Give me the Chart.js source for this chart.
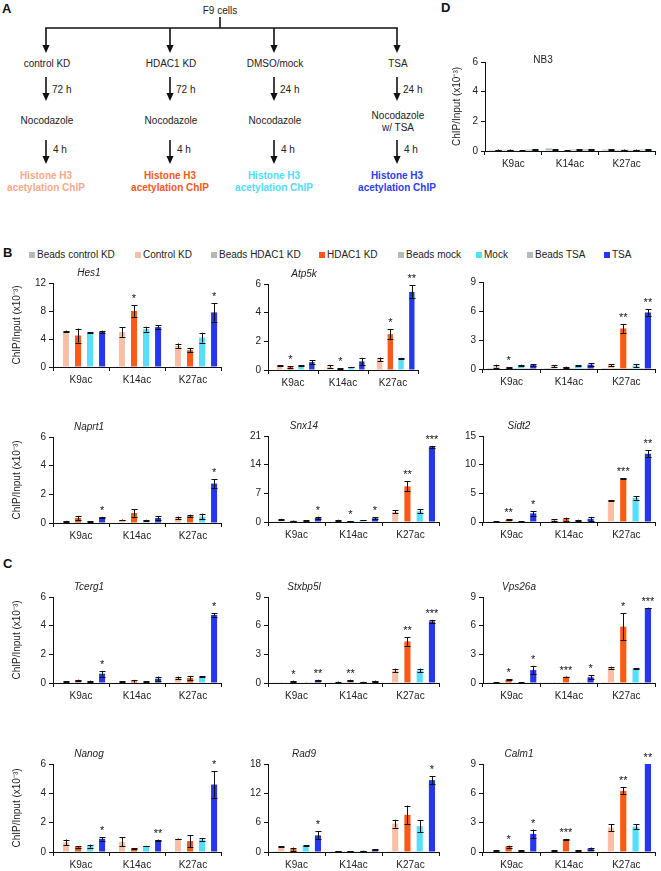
<!DOCTYPE html>
<html><head><meta charset="utf-8">
<script src="https://cdn.jsdelivr.net/npm/chart.js@4/dist/chart.umd.min.js"></script>
<style>
body{margin:0;background:#fff;font-family:'Liberation Sans',Arial,sans-serif;}
#wrap{position:relative;width:661px;height:871px;overflow:hidden;background:#fff;}
.abs{position:absolute;}
.pl{position:absolute;font-weight:bold;font-size:13px;color:#111;line-height:13px;}
.leg{position:absolute;font-size:10px;color:#222;line-height:10px;white-space:nowrap;}
.sq{position:absolute;width:6px;height:6px;}
</style></head><body><div id="wrap">
<div class="pl" style="left:2px;top:2px">A</div>
<div class="pl" style="left:441px;top:1px">D</div>
<div class="pl" style="left:3px;top:246px">B</div>
<div class="pl" style="left:3px;top:557px">C</div>
</div>
<script>
// ---------- shared labels ----------
const groups = ['K9ac', 'K14ac', 'K27ac'];
const seriesNames = ['Beads control KD', 'Control KD', 'Beads HDAC1 KD', 'HDAC1 KD', 'Beads mock', 'Mock', 'Beads TSA', 'TSA'];
const seriesColors = ['#b3baba', '#f8bfa7', '#b3baba', '#fa5a16', '#b3baba', '#55dff8', '#b3baba', '#2536ef'];
const yAxisTitle = 'ChIP/Input (x10\u207B\u00B3)';

// ---------- panel A texts ----------
const flowHeads = ['control KD', 'HDAC1 KD', 'DMSO/mock', 'TSA'];
const flowTimes = ['72 h', '72 h', '24 h', '24 h'];
const flowColors = ['#f9a98a', '#f5581c', '#4fdcf9', '#2f3cf2'];

// ---------- values: per group [bCtrl, ctrl, bHDAC, HDAC1, bMock, mock, bTSA, TSA] ----------
const hes1Mean = [[0.05,5.1,0.05,4.5,0.05,4.9,0.05,5.0],[0.05,5.0,0.05,8.0,0.05,5.4,0.05,5.7],[0.05,3.0,0.05,2.4,0.05,4.2,0.05,7.8]];
const hes1Err  = [[0,0.1,0,1.0,0,0.05,0,0.2],[0,0.7,0,0.8,0,0.35,0,0.3],[0,0.35,0,0.3,0,0.7,0,1.3]];
const hes1Sig  = [['','','',''],['','*','',''],['','','','*']];

const atp5kMean = [[0.03,0.33,0.03,0.2,0.03,0.33,0.03,0.55],[0.03,0.25,0.03,0.08,0.03,0.2,0.03,0.6],[0.03,0.75,0.03,2.5,0.03,0.8,0.03,5.45]];
const atp5kErr  = [[0,0.02,0,0.05,0,0.02,0,0.15],[0,0.08,0,0.03,0,0.02,0,0.25],[0,0.12,0,0.35,0,0.05,0,0.45]];
const atp5kSig  = [['','*','',''],['','*','',''],['','*','','**']];

const b3Mean = [[0.1,0.3,0.05,0.15,0.1,0.4,0.1,0.4],[0.1,0.3,0.05,0.2,0.1,0.35,0.1,0.45],[0.1,0.4,0.1,4.2,0.1,0.35,0.1,5.85]];
const b3Err  = [[0,0.15,0,0.05,0,0.05,0,0.1],[0,0.08,0,0.05,0,0.05,0,0.15],[0,0.08,0,0.45,0,0.15,0,0.35]];
const b3Sig  = [['','*','',''],['','','',''],['','**','','**']];

const naprt1Mean = [[0.03,0.12,0.03,0.35,0.03,0.1,0.03,0.38],[0.03,0.22,0.03,0.7,0.03,0.18,0.03,0.35],[0.03,0.35,0.03,0.5,0.03,0.45,0.03,2.75]];
const naprt1Err  = [[0,0.03,0,0.15,0,0.03,0,0.05],[0,0.02,0,0.25,0,0.05,0,0.12],[0,0.1,0,0.08,0,0.2,0,0.3]];
const naprt1Sig  = [['','','','*'],['','','',''],['','','','*']];

const snx14Mean = [[0.1,0.6,0.1,0.3,0.1,0.35,0.1,1.0],[0.1,0.45,0.1,0.2,0.1,0.45,0.1,0.9],[0.1,2.5,0.1,8.7,0.1,2.6,0.1,18.3]];
const snx14Err  = [[0,0.2,0,0.05,0,0.05,0,0.3],[0,0.1,0,0.05,0,0.05,0,0.2],[0,0.4,0,1.2,0,0.5,0,0.3]];
const snx14Sig  = [['','','','*'],['','*','','*'],['','**','','***']];

const sidt2Mean = [[0.05,0.1,0.05,0.4,0.05,0.1,0.05,1.5],[0.05,0.35,0.05,0.5,0.05,0.3,0.05,0.55],[0.05,3.8,0.05,7.6,0.05,4.2,0.05,11.9]];
const sidt2Err  = [[0,0.02,0,0.05,0,0.02,0,0.4],[0,0.1,0,0.25,0,0.1,0,0.35],[0,0.05,0,0.05,0,0.3,0,0.6]];
const sidt2Sig  = [['','**','','*'],['','','',''],['','***','','**']];

const tcerg1Mean = [[0.03,0.1,0.03,0.18,0.03,0.12,0.03,0.65],[0.03,0.1,0.03,0.12,0.03,0.1,0.03,0.3],[0.03,0.35,0.03,0.35,0.03,0.45,0.03,4.75]];
const tcerg1Err  = [[0,0.02,0,0.05,0,0.05,0,0.2],[0,0.02,0,0.1,0,0.02,0,0.15],[0,0.1,0,0.15,0,0.02,0,0.12]];
const tcerg1Sig  = [['','','','*'],['','','',''],['','','','*']];

const stxbp5lMean = [[0.03,0.03,0.03,0.2,0.03,0.03,0.03,0.3],[0.03,0.1,0.03,0.3,0.03,0.1,0.03,0.2],[0.03,1.3,0.03,4.35,0.03,1.3,0.03,6.45]];
const stxbp5lErr  = [[0,0.01,0,0.05,0,0.01,0,0.05],[0,0.05,0,0.05,0,0.03,0,0.05],[0,0.2,0,0.45,0,0.2,0,0.15]];
const stxbp5lSig  = [['','*','','**'],['','**','',''],['','**','','***']];

const vps26aMean = [[0.03,0.05,0.03,0.35,0.03,0.05,0.03,1.35],[0.03,0.03,0.03,0.65,0.03,0.03,0.03,0.6],[0.03,1.6,0.03,5.9,0.03,1.5,0.03,7.85]];
const vps26aErr  = [[0,0.01,0,0.05,0,0.01,0,0.45],[0,0.01,0,0.03,0,0.01,0,0.2],[0,0.1,0,1.4,0,0.03,0,0.03]];
const vps26aSig  = [['','*','','*'],['','***','','*'],['','*','','***']];

const nanogMean = [[0.03,0.65,0.03,0.35,0.03,0.4,0.03,0.9],[0.03,0.7,0.03,0.22,0.03,0.4,0.03,0.8],[0.03,0.9,0.03,0.75,0.03,0.85,0.03,4.6]];
const nanogErr  = [[0,0.2,0,0.05,0,0.1,0,0.12],[0,0.3,0,0.02,0,0.02,0,0.05],[0,0.02,0,0.4,0,0.08,0,0.9]];
const nanogSig  = [['','','','*'],['','','','**'],['','','','*']];

const rad9Mean = [[0.05,1.1,0.05,0.6,0.05,1.3,0.05,3.4],[0.05,0.15,0.05,0.15,0.05,0.25,0.05,0.5],[0.05,5.8,0.05,7.6,0.05,5.3,0.05,14.7]];
const rad9Err  = [[0,0.1,0,0.3,0,0.1,0,0.8],[0,0.03,0,0.03,0,0.03,0,0.05],[0,0.8,0,1.9,0,1.2,0,0.8]];
const rad9Sig  = [['','','','*'],['','','',''],['','','','*']];

const calm1Mean = [[0.03,0.15,0.03,0.55,0.03,0.15,0.03,1.85],[0.03,0.15,0.03,1.3,0.03,0.15,0.03,0.35],[0.03,2.5,0.03,6.25,0.03,2.6,0.03,9.0]];
const calm1Err  = [[0,0.02,0,0.1,0,0.02,0,0.45],[0,0.02,0,0.05,0,0.02,0,0.1],[0,0.35,0,0.35,0,0.25,0,0]];
const calm1Sig  = [['','*','','*'],['','***','',''],['','**','','**']];

const nb3Mean = [[0.08,0.08,0.08,0.08,0.05,0.05,0.1,0.1],[0.18,0.1,0.03,0.03,0.1,0.1,0.12,0.12],[0.1,0.1,0.08,0.08,0.08,0.08,0.1,0.1]];
const nb3Err  = [[0,0.02,0,0.02,0,0.02,0,0.02],[0,0.02,0,0.01,0,0.02,0,0.02],[0,0.02,0,0.02,0,0.02,0,0.02]];
const nb3Sig  = [['','','',''],['','','',''],['','','','']];

const FONT = "'Liberation Sans', Arial, sans-serif";
const wrap = document.getElementById('wrap');

// ---------- panel A flow diagram ----------
(function(){
  const NS = 'http://www.w3.org/2000/svg';
  const svg = document.createElementNS(NS, 'svg');
  svg.setAttribute('width', 440); svg.setAttribute('height', 200);
  svg.setAttribute('class', 'abs'); svg.style.left = '0px'; svg.style.top = '0px';
  const el = (tag, attrs, txt) => { const e = document.createElementNS(NS, tag); for (const k in attrs) e.setAttribute(k, attrs[k]); if (txt) e.textContent = txt; svg.appendChild(e); return e; };
  const txt = (x, y, s, opt={}) => el('text', Object.assign({x, y: y + 3.5, 'font-family': FONT, 'font-size': 10, fill: '#222', 'text-anchor': 'middle'}, opt), s);
  const arrow = (x, y1, y2) => { el('line', {x1:x, y1:y1, x2:x, y2:y2-7, stroke:'#111', 'stroke-width':1.6}); el('polygon', {points:`${x-3.6},${y2-8} ${x+3.6},${y2-8} ${x},${y2}`, fill:'#111'}); };
  const xs = [46, 170, 274, 397];
  txt(220, 10, 'F9 cells');
  el('line', {x1:220, y1:17, x2:220, y2:28, stroke:'#111', 'stroke-width':1.6});
  el('line', {x1:45.2, y1:28, x2:397.8, y2:28, stroke:'#111', 'stroke-width':1.6});
  xs.forEach((x, i) => {
    arrow(x, 28, 53);
    txt(x + 1, 63, flowHeads[i]);
    arrow(x, 77, 101);
    txt(x + 6, 89, flowTimes[i], {'text-anchor':'start'});
    if (i < 3) txt(x + 1, 120, 'Nocodazole');
    else { txt(x + 1, 115, 'Nocodazole'); txt(x + 1, 127, 'w/ TSA'); }
    arrow(x, 140, 164);
    txt(x + 7, 149, '4 h', {'text-anchor':'start'});
    txt(x, 175, 'Histone H3', {fill: flowColors[i], 'font-weight':'bold'});
    txt(x, 187, 'acetylation ChIP', {fill: flowColors[i], 'font-weight':'bold'});
  });
  wrap.appendChild(svg);
})();

// ---------- legend for panel B ----------
const legendTextX = [37, 143, 219, 327, 406, 484, 535, 612];
seriesNames.forEach((n, i) => {
  const sq = document.createElement('div'); sq.className = 'sq';
  sq.style.left = (legendTextX[i] - 8) + 'px'; sq.style.top = '252px'; sq.style.background = seriesColors[i];
  wrap.appendChild(sq);
  const t = document.createElement('div'); t.className = 'leg';
  t.style.left = legendTextX[i] + 'px'; t.style.top = '250px'; t.textContent = n;
  wrap.appendChild(t);
});

// ---------- chart builder ----------
function overlay(p){
  return {
    id: 'ov',
    afterDraw(chart){
      const ctx = chart.ctx, ys = chart.scales.y, a = chart.chartArea;
      ctx.save();
      ctx.strokeStyle = '#111'; ctx.lineWidth = 1;
      for (let s = 0; s < 8; s++){
        const meta = chart.getDatasetMeta(s);
        meta.data.forEach((bar, gi) => {
          const m = p.mean[gi][s], e = p.err[gi][s];
          const x = Math.round(bar.x) + 0.5;
          const yt = ys.getPixelForValue(Math.min(m + e, p.max));
          if (e > 0){
            const yb = ys.getPixelForValue(Math.max(m - e, 0));
            ctx.beginPath();
            ctx.moveTo(x, yt); ctx.lineTo(x, yb);
            ctx.moveTo(x - 3, Math.round(yt) + 0.5); ctx.lineTo(x + 3, Math.round(yt) + 0.5);
            ctx.moveTo(x - 3, Math.round(yb) + 0.5); ctx.lineTo(x + 3, Math.round(yb) + 0.5);
            ctx.stroke();
          }
          if (s % 2 === 1){
            const sg = p.sig[gi][(s - 1) / 2];
            if (sg){
              ctx.fillStyle = '#111'; ctx.font = '11px ' + FONT;
              ctx.textAlign = 'center'; ctx.textBaseline = 'alphabetic';
              ctx.fillText(sg, bar.x, yt - 3);
            }
          }
        });
      }
      if (p.title){
        ctx.fillStyle = '#222'; ctx.font = (p.italic ? 'italic ' : '') + '10px ' + FONT;
        ctx.textAlign = 'center'; ctx.textBaseline = 'middle';
        ctx.fillText(p.title, a.left + p.tdx, a.top + p.tdy);
      }
      if (p.yTitle){
        ctx.translate(a.left - p.ytx, (a.top + a.bottom) / 2);
        ctx.rotate(-Math.PI / 2);
        ctx.fillStyle = '#222'; ctx.font = '10px ' + FONT;
        ctx.textAlign = 'center'; ctx.textBaseline = 'middle';
        ctx.fillText(yAxisTitle, 0, 0);
      }
      ctx.restore();
    }
  };
}

function makeChart(p){
  const PL = 50, PT = 24, PR = 8, XB = 22;
  const W = p.right - p.axisX + PL + PR, H = p.bottom - p.top + PT + XB;
  const div = document.createElement('div'); div.className = 'abs';
  div.style.left = (p.axisX - PL) + 'px'; div.style.top = (p.top - PT) + 'px';
  div.style.width = W + 'px'; div.style.height = H + 'px';
  const cv = document.createElement('canvas'); cv.width = W; cv.height = H;
  cv.style.width = W + 'px'; cv.style.height = H + 'px';
  div.appendChild(cv); wrap.appendChild(div);
  const datasets = seriesNames.map((n, s) => ({
    label: n, data: groups.map((g, gi) => p.mean[gi][s]),
    backgroundColor: seriesColors[s], borderWidth: 0,
    barPercentage: 1.0, categoryPercentage: 0.86
  }));
  new Chart(cv, {
    type: 'bar',
    data: {labels: groups, datasets},
    options: {
      responsive: false, animation: false, devicePixelRatio: 1,
      layout: {padding: {top: PT, right: PR, left: 0, bottom: 0}},
      plugins: {legend: {display: false}, tooltip: {enabled: false}, title: {display: false}},
      scales: {
        x: {
          grid: {drawOnChartArea: false, drawTicks: true, tickLength: 4, color: '#111', offset: true},
          border: {color: '#111', width: 1},
          ticks: {color: '#222', font: {size: 10, family: FONT}, padding: 3, maxRotation: 0, autoSkip: false},
          afterFit(s){ s.height = XB; }
        },
        y: {
          min: 0, max: p.max,
          ticks: {stepSize: p.step, color: '#222', font: {size: 10, family: FONT}, padding: 3},
          grid: {drawOnChartArea: false, drawTicks: true, tickLength: 4, color: '#111'},
          border: {color: '#111', width: 1},
          afterFit(s){ s.width = PL; }
        }
      }
    },
    plugins: [overlay(p)]
  });
}

const T = -10, TX = 36;
// Panel D
makeChart({axisX:485, top:62, bottom:151, right:655, max:6, step:2, mean:nb3Mean, err:nb3Err, sig:nb3Sig, title:'NB3', italic:false, tdx:58, tdy:-2, yTitle:true, ytx:28});
// Panel B row 1
makeChart({axisX:53, top:283, bottom:367, right:221, max:12, step:4, mean:hes1Mean, err:hes1Err, sig:hes1Sig, title:'Hes1', italic:true, tdx:TX, tdy:T, yTitle:true, ytx:36});
makeChart({axisX:268, top:284, bottom:370, right:418, max:6, step:2, mean:atp5kMean, err:atp5kErr, sig:atp5kSig, title:'Atp5k', italic:true, tdx:TX, tdy:T});
makeChart({axisX:483, top:282, bottom:369, right:655, max:9, step:3, mean:b3Mean, err:b3Err, sig:b3Sig});
// Panel B row 2
makeChart({axisX:53, top:437, bottom:523, right:221, max:6, step:2, mean:naprt1Mean, err:naprt1Err, sig:naprt1Sig, title:'Naprt1', italic:true, tdx:TX, tdy:T, yTitle:true, ytx:36});
makeChart({axisX:268, top:436, bottom:522, right:439, max:21, step:7, mean:snx14Mean, err:snx14Err, sig:snx14Sig, title:'Snx14', italic:true, tdx:TX, tdy:T});
makeChart({axisX:483, top:436, bottom:522, right:655, max:15, step:5, mean:sidt2Mean, err:sidt2Err, sig:sidt2Sig, title:'Sidt2', italic:true, tdx:TX, tdy:T});
// Panel C row 1
makeChart({axisX:53, top:597, bottom:683, right:221, max:6, step:2, mean:tcerg1Mean, err:tcerg1Err, sig:tcerg1Sig, title:'Tcerg1', italic:true, tdx:TX, tdy:T, yTitle:true, ytx:36});
makeChart({axisX:268, top:597, bottom:683, right:439, max:9, step:3, mean:stxbp5lMean, err:stxbp5lErr, sig:stxbp5lSig, title:'Stxbp5l', italic:true, tdx:TX, tdy:T});
makeChart({axisX:483, top:597, bottom:683, right:655, max:9, step:3, mean:vps26aMean, err:vps26aErr, sig:vps26aSig, title:'Vps26a', italic:true, tdx:TX, tdy:T});
// Panel C row 2
makeChart({axisX:53, top:764, bottom:852, right:221, max:6, step:2, mean:nanogMean, err:nanogErr, sig:nanogSig, title:'Nanog', italic:true, tdx:TX, tdy:T, yTitle:true, ytx:36});
makeChart({axisX:268, top:764, bottom:852, right:439, max:18, step:6, mean:rad9Mean, err:rad9Err, sig:rad9Sig, title:'Rad9', italic:true, tdx:TX, tdy:T});
makeChart({axisX:483, top:764, bottom:852, right:655, max:9, step:3, mean:calm1Mean, err:calm1Err, sig:calm1Sig, title:'Calm1', italic:true, tdx:TX, tdy:T});
</script>
</body></html>
